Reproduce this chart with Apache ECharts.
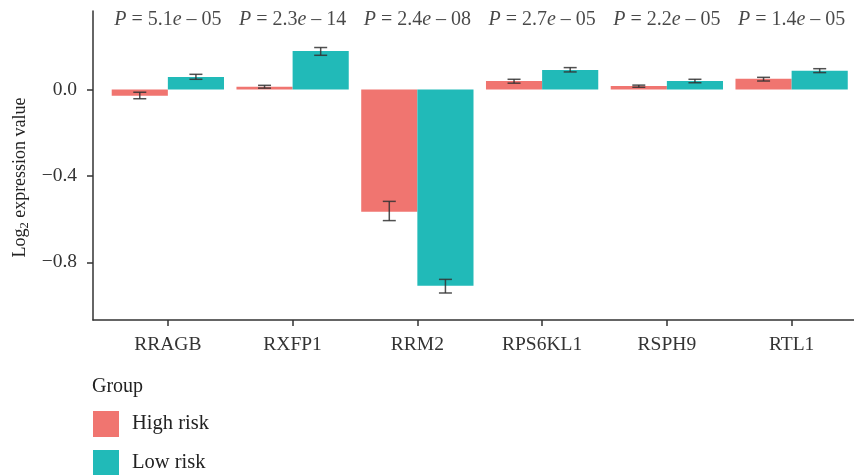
<!DOCTYPE html>
<html>
<head>
<meta charset="utf-8">
<script src="https://cdn.jsdelivr.net/npm/echarts@6/dist/echarts.min.js"></script>
<style>html,body{margin:0;padding:0;background:#fff}#c{width:854px;height:475px}</style>
</head>
<body>
<div id="c"></div>
<script>
var categories = ['RRAGB', 'RXFP1', 'RRM2', 'RPS6KL1', 'RSPH9', 'RTL1'];
var groups = ['High risk', 'Low risk'];
var highMean = [-0.029, 0.012, -0.566, 0.039, 0.016, 0.049];
var highLow  = [-0.043, 0.006, -0.607, 0.029, 0.010, 0.039];
var highHigh = [-0.013, 0.019, -0.518, 0.047, 0.020, 0.056];
var lowMean  = [0.058, 0.178, -0.908, 0.090, 0.039, 0.086];
var lowLow   = [0.047, 0.158, -0.942, 0.081, 0.031, 0.078];
var lowHigh  = [0.070, 0.194, -0.879, 0.101, 0.047, 0.096];
var pMantissa = ['5.1', '2.3', '2.4', '2.7', '2.2', '1.4'];
var pExponent = ['05', '14', '08', '05', '05', '05'];
var yTicks = [-0.8, -0.4, 0.0];

var FONT = 'Liberation Serif';
var RED = '#F07570';
var TEAL = '#21BAB8';
var DODGE = 0.225;
var BARW = 0.45;

function barData(arr) { return arr.map(function (v, i) { return [i, v]; }); }
function errData(lo, hi) { return lo.map(function (v, i) { return [i, v, hi[i]]; }); }

function barRender(offset) {
  return function (params, api) {
    var xc = api.value(0) + offset;
    var p0 = api.coord([xc - BARW / 2, 0]);
    var p1 = api.coord([xc + BARW / 2, api.value(1)]);
    return {
      type: 'rect',
      shape: { x: p0[0], y: Math.min(p0[1], p1[1]), width: p1[0] - p0[0], height: Math.abs(p1[1] - p0[1]) },
      style: { fill: api.visual('color') }
    };
  };
}

function errorRender(offset) {
  return function (params, api) {
    var x = api.value(0) + offset;
    var a = api.coord([x, api.value(1)]);
    var b = api.coord([x, api.value(2)]);
    var hw = 6.5;
    var style = { stroke: '#333333', lineWidth: 1.5, opacity: 0.85 };
    return {
      type: 'group',
      children: [
        { type: 'line', shape: { x1: a[0], y1: a[1], x2: b[0], y2: b[1] }, style: style },
        { type: 'line', shape: { x1: a[0] - hw, y1: a[1], x2: a[0] + hw, y2: a[1] }, style: style },
        { type: 'line', shape: { x1: b[0] - hw, y1: b[1], x2: b[0] + hw, y2: b[1] }, style: style }
      ]
    };
  };
}

var chart = echarts.init(document.getElementById('c'), null, { renderer: 'canvas' });
var option = {
  animation: false,
  backgroundColor: '#ffffff',
  title: {
    text: 'Group', left: 87, top: 372,
    textStyle: { fontFamily: FONT, fontSize: 20, fontWeight: 'normal', color: '#222' }
  },
  legend: {
    data: groups, orient: 'vertical', left: 93, top: 411, height: 90,
    itemWidth: 26, itemHeight: 26, itemGap: 13, icon: 'rect', padding: 0,
    textStyle: { fontFamily: FONT, fontSize: 20.5, color: '#222', padding: [0, 0, 0, 8] }
  },
  grid: { left: 93, right: 0, top: 11, bottom: 155, containLabel: false },
  xAxis: {
    type: 'value', min: -0.6, max: 5.5,
    splitLine: { show: false },
    axisLine: { show: true, onZero: false, lineStyle: { color: '#333', width: 1.5 } },
    axisTick: { show: true, length: 6, customValues: [0, 1, 2, 3, 4, 5], lineStyle: { color: '#333', width: 1.5 } },
    axisLabel: {
      customValues: [0, 1, 2, 3, 4, 5], margin: 15,
      formatter: function (v) { return categories[Math.round(v)]; },
      fontFamily: FONT, fontSize: 19.5, color: '#333'
    }
  },
  yAxis: {
    type: 'value', min: -1.067, max: 0.363,
    splitLine: { show: false },
    axisLine: { show: true, onZero: false, lineStyle: { color: '#333', width: 1.5 } },
    axisTick: { show: true, length: 6, customValues: yTicks, lineStyle: { color: '#333', width: 1.5 } },
    axisLabel: {
      customValues: yTicks, margin: 16,
      formatter: function (v) { return v.toFixed(1).replace('-', '\u2212'); },
      fontFamily: FONT, fontSize: 19.5, color: '#333'
    },
    name: '{a|Log}{s|2}{a| expression value}',
    nameLocation: 'middle', nameGap: 62, nameRotate: 90,
    nameTextStyle: {
      padding: [0, 24, 0, 0],
      rich: {
        a: { fontFamily: FONT, fontSize: 18, color: '#222' },
        s: { fontFamily: FONT, fontSize: 12.5, color: '#222', verticalAlign: 'bottom', padding: [8, 0, 0, 0] }
      }
    }
  },
  series: [
    {
      name: groups[0], type: 'custom', renderItem: barRender(-DODGE), data: barData(highMean),
      itemStyle: { color: RED }, encode: { x: 0, y: 1 }
    },
    {
      name: groups[1], type: 'custom', renderItem: barRender(DODGE), data: barData(lowMean),
      itemStyle: { color: TEAL }, encode: { x: 0, y: 1 }
    },
    {
      type: 'custom', renderItem: errorRender(-DODGE), data: errData(highLow, highHigh), z: 5, silent: true
    },
    {
      type: 'custom', renderItem: errorRender(DODGE), data: errData(lowLow, lowHigh), z: 5, silent: true
    },
    {
      type: 'scatter', symbolSize: 0, silent: true,
      data: categories.map(function (c, i) { return [i, 0.322]; }),
      label: {
        show: true, position: 'inside',
        formatter: function (p) {
          var i = p.dataIndex;
          return '{i|P}{n| = ' + pMantissa[i] + '}{i|e}{n| \u2013 ' + pExponent[i] + '}';
        },
        rich: {
          i: { fontFamily: FONT, fontSize: 20, fontStyle: 'italic', color: '#1a1a1a' },
          n: { fontFamily: FONT, fontSize: 20, color: '#1a1a1a' }
        }
      }
    }
  ]
};
chart.setOption(option);
</script>
</body>
</html>
